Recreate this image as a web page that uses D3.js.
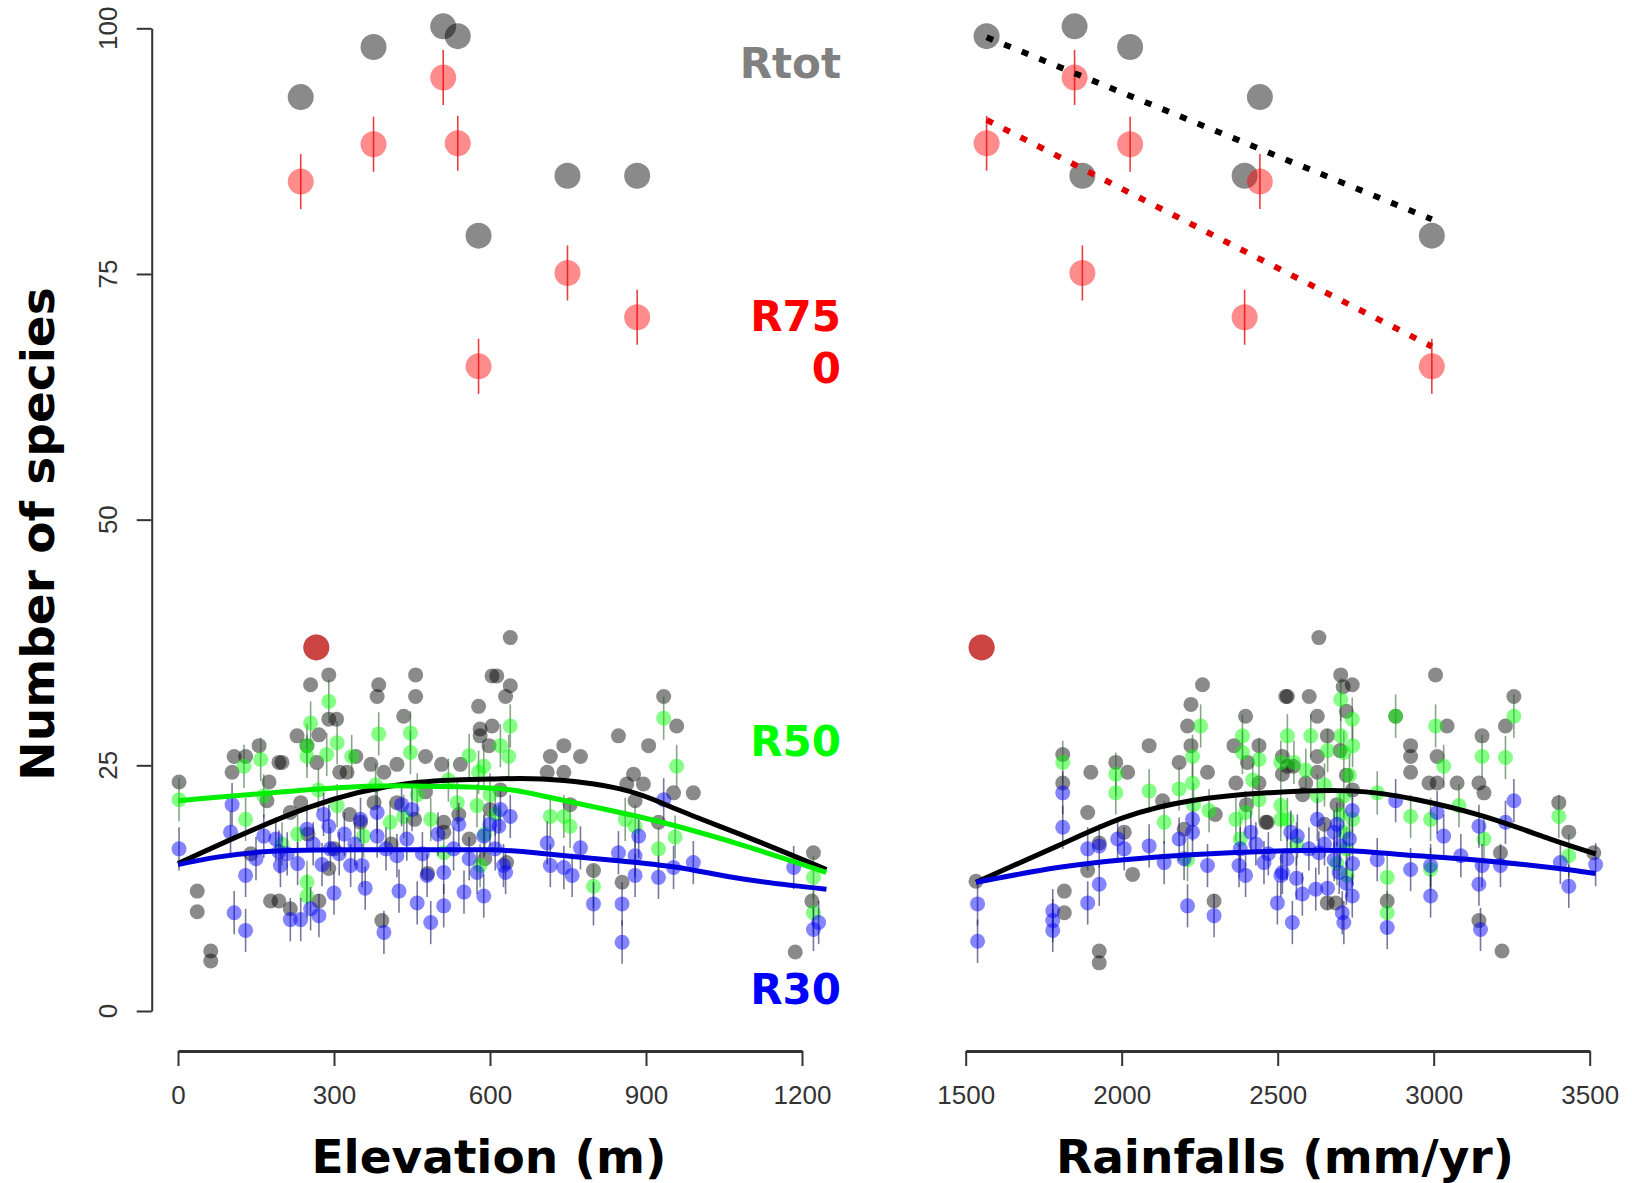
<!DOCTYPE html>
<html>
<head>
<meta charset="utf-8">
<script src="https://cdn.jsdelivr.net/npm/d3@7"></script>
<style>
  html, body { margin: 0; padding: 0; background: #fff; }
  svg { display: block; }
</style>
</head>
<body>
<svg id="chart" width="1632" height="1183"></svg>
<script>

// Sites (big markers): elevation, rainfall, Rtot, R750
var siteElev = [236, 376, 510, 538, 578, 749, 883];
var siteRain = [2443, 2027, 1849, 1567, 2994, 1874, 2394];
var siteRtot = [93.0, 98.1, 100.2, 99.2, 78.9, 85.0, 85.0];
var siteR750 = [84.4, 88.2, 95.0, 88.3, 65.6, 75.1, 70.6];
var seR750 = 2.8;

// the lone dark red marker at the bottom left of each panel
var extraElev = 266;
var extraRain = 1551;
var extraValue = 37;

// plots, elevation panel: [elevation, species]
var grayElev = [[2,23.3],[37,12.2],[37,10.1],[63,6.1],[63,5.1],[104,24.3],[108,25.9],[130,25.9],[156,27.0],[175,23.3],
  [194,25.3],[200,25.3],[229,28.0],[248,27.0],[255,33.2],[290,34.2],[290,29.7],[271,28.1],[305,29.7],[267,25.3],
  [311,24.3],[325,24.3],[342,25.9],[371,25.1],[396,24.3],[386,33.2],[383,32.0],[421,25.1],[434,30.0],[457,34.2],
  [457,32.0],[476,25.9],[507,25.1],[543,25.1],[578,31.0],[604,34.1],[581,28.7],[581,28.0],[178,11.2],[194,11.2],
  [216,10.4],[271,11.2],[392,9.2],[351,19.2],[421,21.2],[511,19.2],[511,18.2],[476,22.3],[236,21.2],[171,21.4],
  [377,21.2],[216,20.2],[639,38.0],[613,34.1],[639,33.1],[630,32.0],[604,29.0],[598,27.0],[716,25.9],[742,27.0],
  [774,25.9],[710,24.3],[742,24.3],[847,28.0],[905,27.0],[934,32.0],[959,29.0],[876,24.1],[863,23.1],[895,23.1],
  [879,21.4],[953,22.2],[991,22.2],[924,19.2],[799,14.3],[854,13.1],[1222,16.1],[1219,11.2],[1187,6.0],[632,15.1],
  [754,21.0],[250,18.0],[300,16.5],[330,20.0],[410,17.0],[455,19.5],[540,20.0],[560,17.5],[600,20.5],[620,22.5],
  [140,16.0],[290,14.5],[480,14.0],[590,15.5]];

var greenElev = [[2,21.5],[290,31.5],[255,29.3],[386,28.2],[447,28.3],[447,26.3],[334,25.9],[286,26.1],[306,27.3],[248,27.0],
  [248,25.9],[130,19.5],[127,24.9],[159,25.6],[306,20.9],[248,13.1],[248,11.7],[408,19.2],[434,19.8],[486,19.5],
  [511,16.1],[588,24.9],[575,20.9],[581,14.8],[165,21.9],[357,17.8],[537,21.2],[639,29.0],[620,27.0],[636,25.9],
  [934,29.8],[959,24.9],[716,19.8],[742,19.8],[754,18.8],[860,19.5],[879,18.8],[924,16.5],[956,17.7],[799,12.7],
  [1222,13.6],[1222,10.0],[578,24.3],[600,22.0],[610,20.0],[590,18.0],[270,22.5],[230,18.0],[460,22.0],[520,23.5],
  [560,26.0],[380,23.0],[200,17.0]];

var blueElev = [[2,16.5],[104,21.0],[108,10.0],[130,8.2],[130,13.8],[101,18.2],[165,17.8],[188,17.5],[197,14.8],[194,16.2],
  [216,9.3],[236,9.3],[255,10.4],[271,9.7],[248,18.5],[277,14.9],[290,18.8],[293,16.5],[332,14.8],[354,14.8],
  [351,19.5],[383,20.2],[383,17.8],[396,8.0],[421,15.8],[425,12.2],[450,20.5],[460,11.0],[479,13.8],[486,9.0],
  [511,10.7],[511,14.1],[550,12.1],[575,14.1],[588,11.7],[588,17.8],[639,19.8],[617,18.8],[626,14.8],[630,14.1],
  [710,17.1],[716,14.8],[742,14.6],[758,13.8],[774,16.6],[799,10.9],[854,10.9],[854,7.0],[847,16.1],[879,15.8],
  [886,17.8],[879,13.8],[924,13.6],[953,14.6],[991,15.1],[934,21.5],[1184,14.6],[1222,8.3],[1232,9.0],
  [210,16.0],[230,15.0],[260,17.0],[310,16.0],[320,18.0],[340,17.0],[400,16.5],[440,17.5],[470,16.0],[500,18.0],
  [530,16.5],[560,15.5],[600,19.0],[610,16.5],[620,20.5],[150,15.5],[280,20.0],[430,21.0],[540,19.0],[360,12.5],[300,12.0]];

// plots, rainfall panel: [rainfall, species]
var grayRain = [[1533,13.2],[1811,26.1],[1811,23.2],[1816,12.2],[1816,10.0],[1901,24.3],[1891,20.2],[1891,14.3],[1928,6.1],[1928,4.9],
  [1981,25.3],[2019,24.3],[2088,27.0],[2008,18.2],[2035,13.9],[2131,21.4],[2184,25.3],[2222,31.2],[2211,29.0],[2259,33.2],
  [2222,27.0],[2275,24.3],[2296,11.2],[2397,30.0],[2360,27.0],[2403,25.3],[2440,27.0],[2440,23.2],[2366,23.2],[2462,19.2],
  [2526,32.0],[1928,17.1],[2632,38.0],[2531,32.0],[2601,32.0],[2702,34.2],[2739,33.2],[2710,33.0],[2627,30.0],[2659,28.0],
  [2627,25.9],[2627,24.3],[2515,25.9],[2531,24.9],[2550,24.9],[2515,24.1],[2590,23.2],[3006,34.2],[3043,29.0],[2926,27.0],
  [2926,25.9],[2926,24.3],[3011,25.9],[2985,23.2],[3011,23.2],[3075,23.2],[3155,28.0],[3145,23.2],[3161,22.2],[3257,32.0],
  [3230,29.0],[3401,21.2],[3433,18.2],[3513,16.1],[3214,16.1],[3145,9.2],[3219,6.1],[2659,11.0],[2686,11.0],[2851,11.2],
  [2878,30.0],[2467,19.2],[2700,26.5],[2720,24.0],[2690,21.0],[2650,19.0],[2580,22.0],[2400,21.0],[2300,20.0],[2200,18.5],
  [2720,30.5],[2740,22.5]];

var greenRain = [[1811,25.3],[1981,24.1],[1981,22.2],[2088,22.4],[2136,19.2],[2184,22.6],[2227,25.9],[2227,23.2],[2253,29.0],[2211,15.4],
  [2280,20.4],[2387,28.0],[2387,26.3],[2440,25.6],[2366,19.5],[2397,20.2],[2440,21.5],[2510,25.3],[2510,19.5],[2531,28.0],
  [2606,28.0],[2702,31.7],[2739,29.7],[2702,28.0],[2712,26.3],[2552,25.3],[2510,20.9],[2531,19.5],[2627,21.9],[2712,21.9],
  [2712,18.2],[2723,13.8],[3006,29.0],[3032,24.9],[2819,22.2],[2926,19.8],[2990,19.5],[2851,13.6],[2851,10.0],[3155,25.9],
  [3230,25.8],[3257,30.0],[3161,17.5],[3401,19.8],[3433,15.8],[2990,14.4],[3081,20.9],[2878,30.0],[2730,24.0],[2720,16.5],
  [2700,20.0],[2740,27.0],[2650,23.0],[2590,24.5],[2560,17.0],[2380,17.5],[2420,23.5],[2230,21.0],[2690,15.0],[2740,19.5],
  [2660,26.5]];

var blueRain = [[1538,10.9],[1538,7.1],[1811,22.2],[1811,18.7],[1779,10.2],[1779,9.2],[1779,8.2],[1891,11.0],[1891,16.5],[1928,12.9],
  [1928,16.8],[1987,17.5],[2008,16.5],[2088,16.8],[2136,15.1],[2184,17.5],[2211,10.7],[2227,18.2],[2227,19.5],[2296,9.7],
  [2275,14.8],[2376,14.8],[2397,13.8],[2414,18.2],[2456,15.1],[2499,11.0],[2515,14.1],[2510,13.8],[2547,9.0],[2542,18.2],
  [2563,17.8],[2579,11.9],[2622,12.4],[2627,19.5],[2632,16.1],[2681,18.2],[2681,15.4],[2697,14.1],[2707,10.0],[2712,9.0],
  [2739,20.4],[2739,11.7],[2819,15.4],[2851,8.5],[2878,21.4],[2926,14.4],[2990,11.7],[2990,14.8],[3011,20.2],[3032,17.8],
  [3087,15.8],[3145,18.8],[3145,12.9],[3150,8.3],[3155,14.8],[3214,14.8],[3230,19.2],[3257,21.4],[3406,15.1],[3433,12.7],
  [3519,14.9],[2530,15.5],[2560,13.5],[2600,16.5],[2650,17.0],[2700,16.8],[2720,13.0],[2740,15.0],[2730,17.5],[2380,16.5],
  [2430,17.0],[2470,16.0],[2200,15.5],[2660,12.5],[2690,19.0]];
var seSmall = 2.2;

// fitted curves
var fitTotElev = [[0,15.0],[250,20.7],[450,23.2],[600,23.6],[700,23.6],[850,22.6],[960,20.5],[1090,17.8],[1247,14.4]];
var fitR50Elev = [[0,21.4],[300,22.7],[450,22.9],[600,22.7],[700,21.9],[850,20.2],[960,18.8],[1090,16.8],[1247,14.1]];
var fitR30Elev = [[0,14.9],[165,16.2],[400,16.4],[600,16.4],[706,16.0],[847,15.3],[962,14.6],[1090,13.4],[1247,12.4]];
var fitTotRain = [[1533,13.1],[1795,16.8],[2008,19.7],[2222,21.4],[2467,22.2],[2734,22.4],[2947,21.5],[3161,19.8],[3374,17.5],[3519,16.0]];
var fitR30Rain = [[1533,13.1],[1795,14.6],[2008,15.4],[2222,15.9],[2526,16.3],[2734,16.3],[2947,15.8],[3161,15.3],[3374,14.6],[3519,14.0]];

var yTicks = [0, 25, 50, 75, 100];
var elevTicks = [0, 300, 600, 900, 1200];
var rainTicks = [1500, 2000, 2500, 3000, 3500];

var cGray = 'rgba(0,0,0,0.46)';
var cGreen = 'rgba(0,255,0,0.48)';
var cBlue = 'rgba(0,0,255,0.48)';
var cRed = 'rgba(255,0,0,0.45)';

var svg = d3.select('#chart');

var y = d3.scaleLinear().domain([0, 100]).range([1011, 28.3]);
var xElev = d3.scaleLinear().domain([0, 1200]).range([178, 802]);
var xRain = d3.scaleLinear().domain([1500, 3500]).range([965.7, 1589.7]);

// simple least squares line, used for the dotted lines
function linearFit(xs, ys) {
    var mx = d3.mean(xs), my = d3.mean(ys);
    var sxy = 0, sxx = 0;
    for (var i = 0; i < xs.length; i++) {
        sxy += (xs[i] - mx) * (ys[i] - my);
        sxx += (xs[i] - mx) * (xs[i] - mx);
    }
    var b = sxy / sxx;
    return function (x) { return my + b * (x - mx); };
}

function drawPoints(g, data, x, color, r, se, barColor) {
    var grp = g.append('g');
    if (se) {
        grp.selectAll('line').data(data).enter().append('line')
            .attr('x1', function (d) { return x(d[0]); })
            .attr('x2', function (d) { return x(d[0]); })
            .attr('y1', function (d) { return y(d[1] - se); })
            .attr('y2', function (d) { return y(d[1] + se); })
            .attr('stroke', barColor)
            .attr('stroke-width', 1.6);
    }
    grp.selectAll('circle').data(data).enter().append('circle')
        .attr('cx', function (d) { return x(d[0]); })
        .attr('cy', function (d) { return y(d[1]); })
        .attr('r', r)
        .attr('fill', color);
}

function drawCurve(g, data, x, color) {
    var line = d3.line()
        .x(function (d) { return x(d[0]); })
        .y(function (d) { return y(d[1]); })
        .curve(d3.curveNatural);
    g.append('path').datum(data)
        .attr('d', line)
        .attr('fill', 'none')
        .attr('stroke', color)
        .attr('stroke-width', 5);
}

function drawXAxis(x, ticks) {
    var ax = svg.append('g').attr('transform', 'translate(0,1051)');
    ax.call(d3.axisBottom(x).tickValues(ticks).tickFormat(d3.format('d'))
        .tickSize(15).tickPadding(20).tickSizeOuter(0));
    ax.select('.domain').attr('stroke', '#333').attr('stroke-width', 3);
    ax.selectAll('.tick line').attr('stroke', '#333').attr('stroke-width', 2);
    ax.selectAll('.tick text')
        .attr('font-family', '"Liberation Sans", Arial, sans-serif')
        .attr('font-size', 26)
        .attr('fill', '#333')
        .attr('dy', '0.71em');
}

var plotL = svg.append('g');
var plotR = svg.append('g');

// top: sites
var sitesElev = siteElev.map(function (e, i) { return [e, siteRtot[i]]; });
var sitesElev750 = siteElev.map(function (e, i) { return [e, siteR750[i]]; });
var sitesRain = siteRain.map(function (e, i) { return [e, siteRtot[i]]; });
var sitesRain750 = siteRain.map(function (e, i) { return [e, siteR750[i]]; });

drawPoints(plotL, sitesElev, xElev, cGray, 13);
drawPoints(plotL, sitesElev750, xElev, cRed, 13, seR750, 'rgba(220,0,0,0.75)');
drawPoints(plotR, sitesRain, xRain, cGray, 13);
drawPoints(plotR, sitesRain750, xRain, cRed, 13, seR750, 'rgba(220,0,0,0.75)');

drawPoints(plotL, [[extraElev, extraValue]], xElev, 'rgba(90,20,10,0.55)', 13);
drawPoints(plotL, [[extraElev, extraValue]], xElev, cRed, 13);
drawPoints(plotR, [[extraRain, extraValue]], xRain, 'rgba(90,20,10,0.55)', 13);
drawPoints(plotR, [[extraRain, extraValue]], xRain, cRed, 13);

// dotted regressions on rainfall
var rainExt = d3.extent(siteRain);
[[siteRtot, '#000'], [siteR750, '#e00000']].forEach(function (s) {
    var f = linearFit(siteRain, s[0]);
    plotR.append('line')
        .attr('x1', xRain(rainExt[0])).attr('y1', y(f(rainExt[0])))
        .attr('x2', xRain(rainExt[1])).attr('y2', y(f(rainExt[1])))
        .attr('stroke', s[1])
        .attr('stroke-width', 6)
        .attr('stroke-dasharray', '7,12');
});

// bottom: plots
drawPoints(plotL, grayElev, xElev, cGray, 7.5);
drawPoints(plotL, greenElev, xElev, cGreen, 7.5, seSmall, 'rgba(40,90,40,0.55)');
drawPoints(plotL, blueElev, xElev, cBlue, 7.5, seSmall, 'rgba(30,30,90,0.6)');
drawPoints(plotR, grayRain, xRain, cGray, 7.5);
drawPoints(plotR, greenRain, xRain, cGreen, 7.5, seSmall, 'rgba(40,90,40,0.55)');
drawPoints(plotR, blueRain, xRain, cBlue, 7.5, seSmall, 'rgba(30,30,90,0.6)');

drawCurve(plotL, fitTotElev, xElev, '#000');
drawCurve(plotL, fitR50Elev, xElev, '#00ee00');
drawCurve(plotL, fitR30Elev, xElev, '#0000dd');
drawCurve(plotR, fitTotRain, xRain, '#000');
drawCurve(plotR, fitR30Rain, xRain, '#0000dd');

// y axis (left panel only), labels rotated like R's default
var yAx = svg.append('g').attr('transform', 'translate(151.7,0)');
yAx.call(d3.axisLeft(y).tickValues(yTicks).tickSize(15).tickSizeOuter(0).tickFormat(''));
yAx.select('.domain').attr('stroke', '#333').attr('stroke-width', 2);
yAx.selectAll('.tick line').attr('stroke', '#333').attr('stroke-width', 2);
svg.append('g').selectAll('text').data(yTicks).enter().append('text')
    .attr('transform', function (d) { return 'translate(108,' + y(d) + ') rotate(-90)'; })
    .attr('text-anchor', 'middle')
    .attr('dominant-baseline', 'central')
    .attr('font-family', '"Liberation Sans", Arial, sans-serif')
    .attr('font-size', 26)
    .attr('fill', '#333')
    .text(function (d) { return d; });

drawXAxis(xElev, elevTicks);
drawXAxis(xRain, rainTicks);

// titles
var bold = '"DejaVu Sans", sans-serif';
svg.append('text')
    .attr('transform', 'translate(54,534) rotate(-90)')
    .attr('text-anchor', 'middle')
    .attr('font-family', bold).attr('font-weight', 'bold').attr('font-size', 47)
    .text('Number of species');
svg.append('text')
    .attr('x', 489).attr('y', 1173)
    .attr('text-anchor', 'middle')
    .attr('font-family', bold).attr('font-weight', 'bold').attr('font-size', 47)
    .text('Elevation (m)');
svg.append('text')
    .attr('x', 1285).attr('y', 1173)
    .attr('text-anchor', 'middle')
    .attr('font-family', bold).attr('font-weight', 'bold').attr('font-size', 47)
    .text('Rainfalls (mm/yr)');

// series labels
var seriesLabels = [
    { text: 'Rtot', y: 78, color: '#808080' },
    { text: 'R75', y: 331, color: '#ff0000' },
    { text: '0', y: 383, color: '#ff0000' },
    { text: 'R50', y: 756, color: '#00ff00' },
    { text: 'R30', y: 1004, color: '#0000ff' }
];
svg.append('g').selectAll('text').data(seriesLabels).enter().append('text')
    .attr('x', 841)
    .attr('y', function (d) { return d.y; })
    .attr('text-anchor', 'end')
    .attr('font-family', bold).attr('font-weight', 'bold').attr('font-size', 42)
    .attr('fill', function (d) { return d.color; })
    .text(function (d) { return d.text; });

</script>
</body>
</html>
